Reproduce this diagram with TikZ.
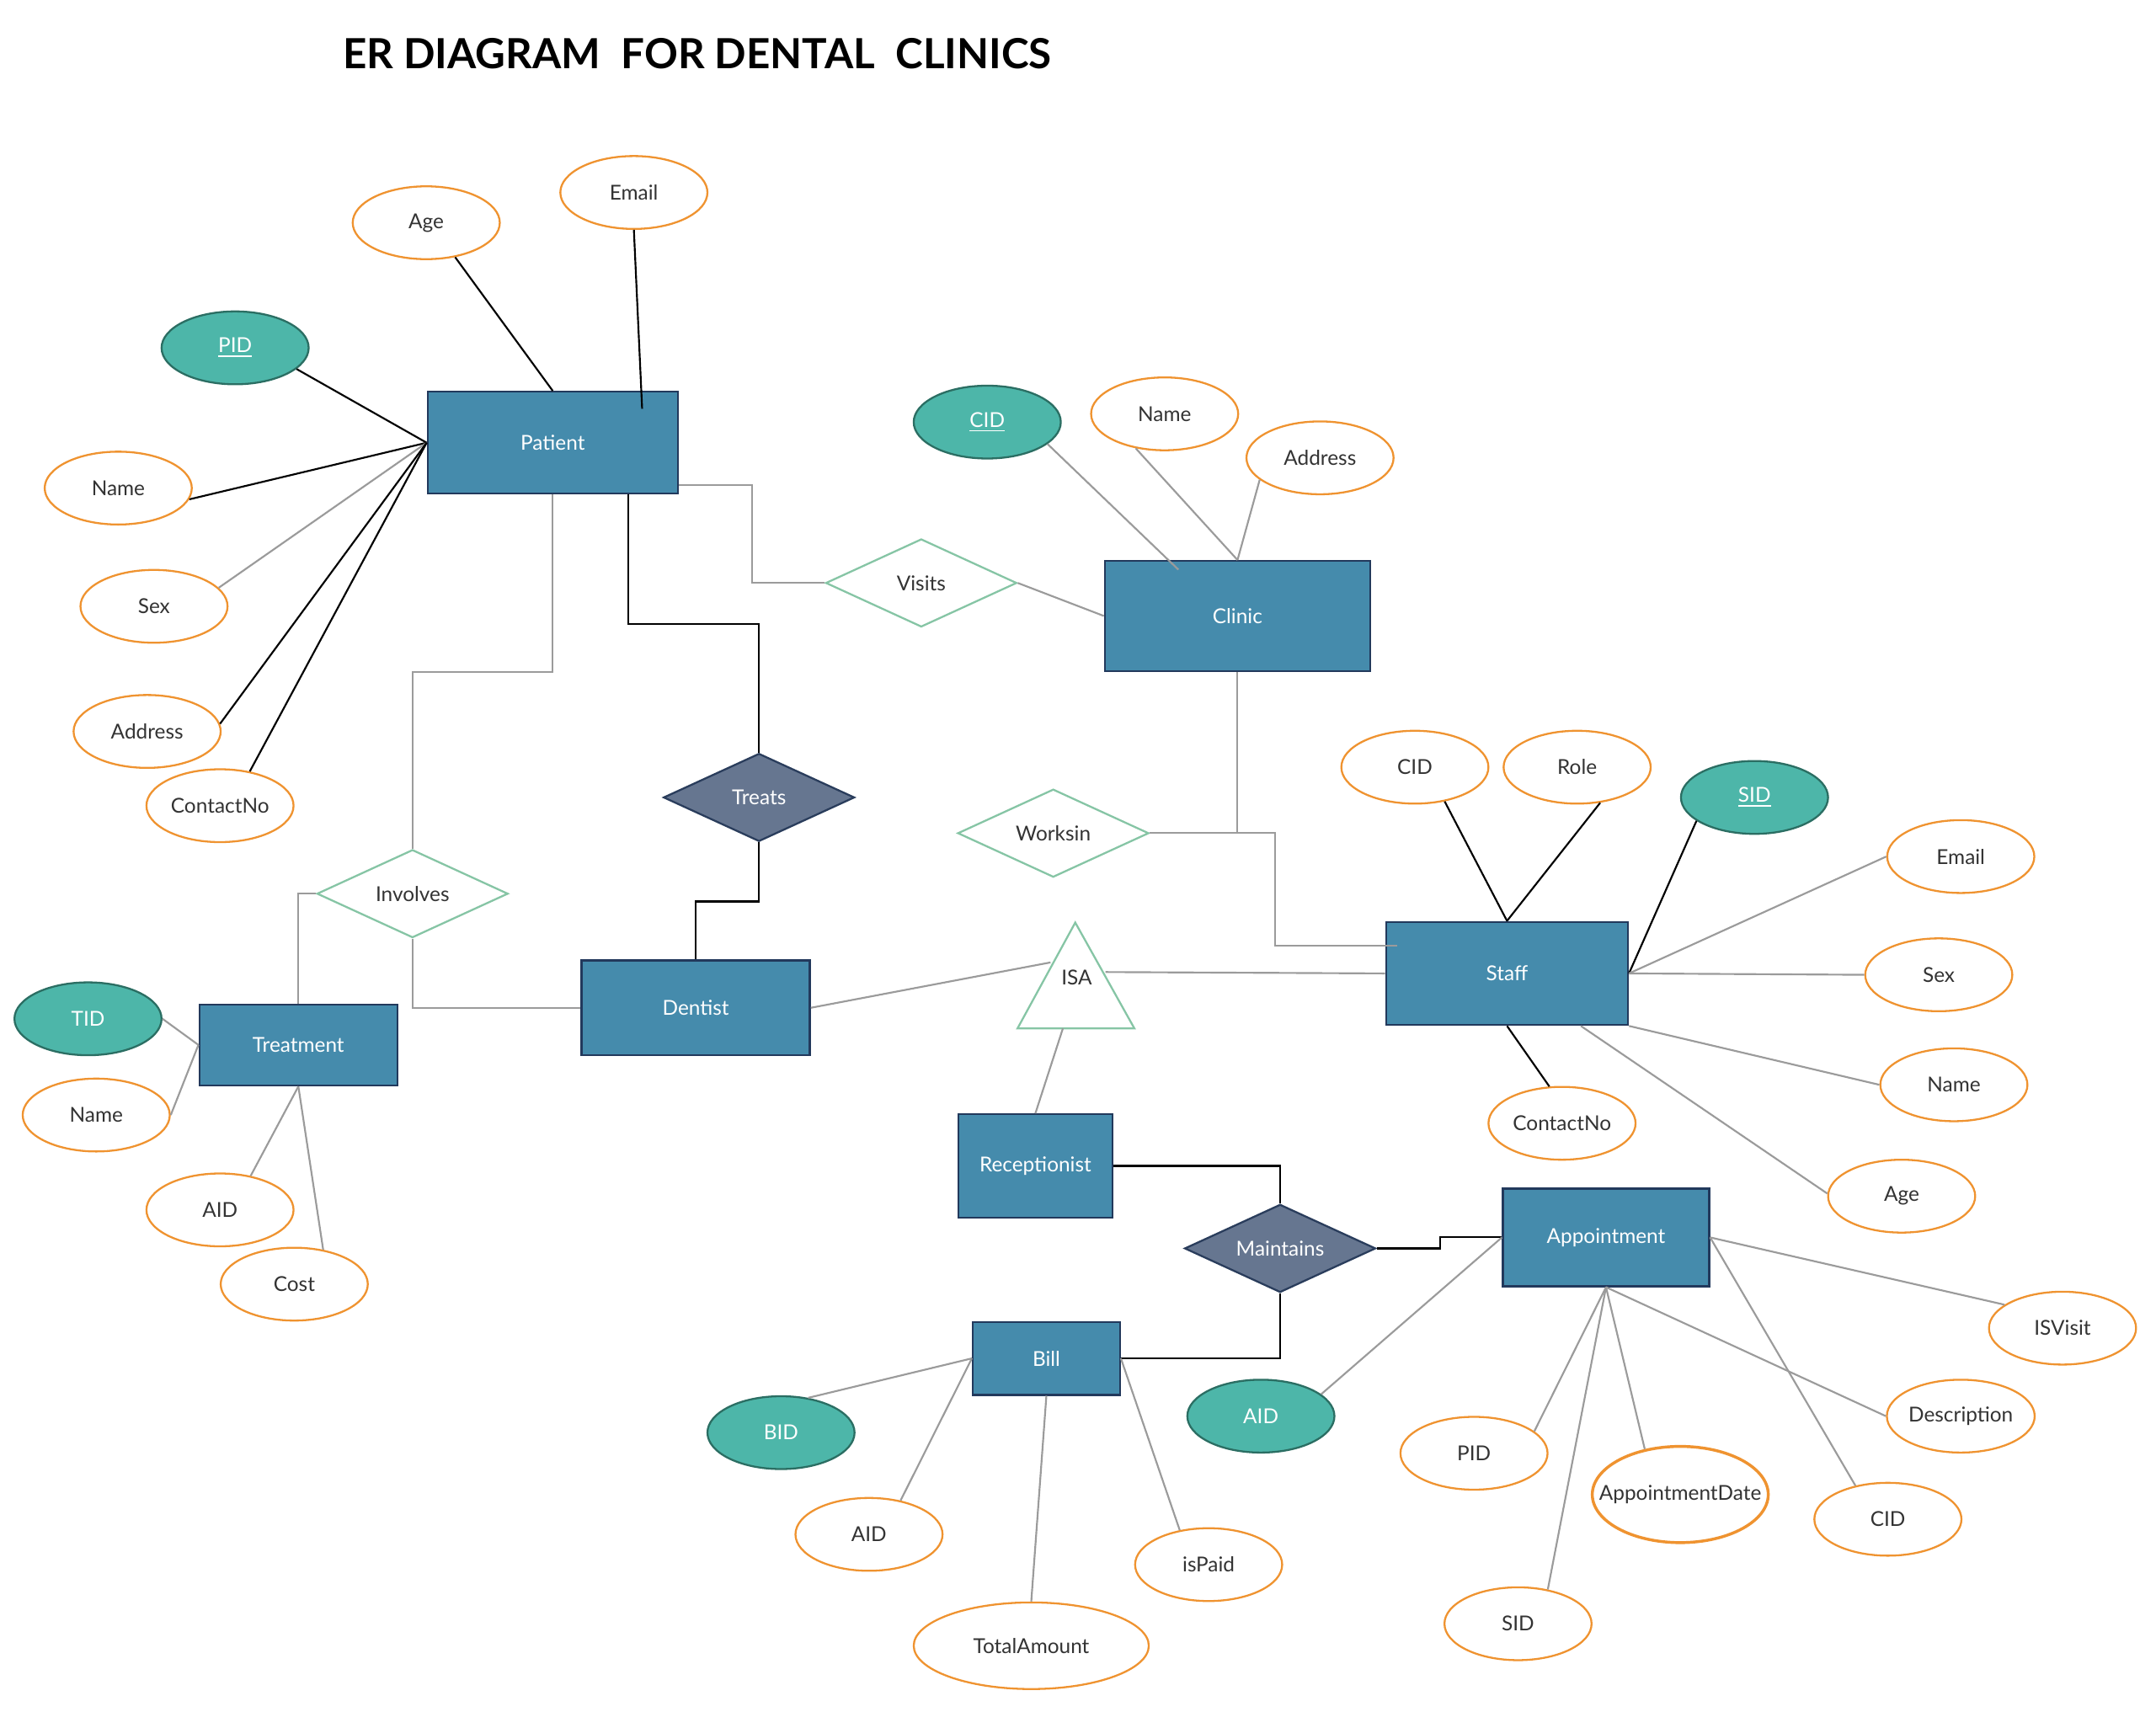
\documentclass[tikz,border=0pt]{standalone}
\usepackage{fontspec}
\setmainfont{Lato}
\usetikzlibrary{shapes.geometric,calc}
\definecolor{entf}{HTML}{458BAC}
\definecolor{entb}{HTML}{22395C}
\definecolor{keyf}{HTML}{4DB6A9}
\definecolor{keyb}{HTML}{2B6E63}
\definecolor{orng}{HTML}{EF9330}
\definecolor{relf}{HTML}{667690}
\definecolor{relb}{HTML}{2A3D5C}
\definecolor{grn}{HTML}{86C5A5}
\definecolor{gline}{HTML}{9B9B9B}
\definecolor{txt}{HTML}{333333}
\begin{document}
\begin{tikzpicture}[x=0.02cm,y=-0.02cm,
  font=\fontsize{8.5}{10}\selectfont,
  ent/.style 2 args={rectangle,draw=entb,fill=entf,text=white,line width=0.8pt,minimum width=#1*0.02cm,minimum height=#2*0.02cm,inner sep=0pt},
  attr/.style={ellipse,draw=orng,fill=white,text=txt,line width=0.8pt,minimum width=2.14cm,minimum height=1.06cm,inner sep=0pt},
  keyattr/.style={attr,draw=keyb,fill=keyf,text=white},
  rel/.style={diamond,aspect=2.2,draw=grn,fill=white,text=txt,line width=0.8pt,minimum width=2.78cm,minimum height=1.28cm,inner sep=0pt},
  drel/.style={rel,draw=relb,fill=relf,text=white},
  bl/.style={draw=black,line width=0.75pt},
  gl/.style={draw=gline,line width=0.75pt}]
\useasboundingbox (0,0) rectangle (1568,1245);

% title
\node[anchor=base west,inner sep=0pt,font=\fontsize{17.2}{20}\selectfont\bfseries] (title) at (249,50) {ER DIAGRAM\hspace{0.5em}FOR DENTAL\hspace{0.5em}CLINICS};

% entities
\node[ent={182}{74}] (patient) at (402,322) {Patient};
\node[ent={193}{80}] (clinic) at (900,448) {Clinic};
\node[ent={176}{75}] (staff) at (1096,708) {Staff};
\node[ent={166}{69}] (dentist) at (506,733) {Dentist};
\node[ent={144}{59}] (treatment) at (217,760) {Treatment};
\node[ent={112}{75}] (receptionist) at (753,848) {Receptionist};
\node[ent={150}{71}] (appointment) at (1168,900) {Appointment};
\node[ent={107}{53}] (bill) at (761,988) {Bill};

% relationships
\node[rel] (visits) at (670,424) {Visits};
\node[drel] (treats) at (552,580) {Treats};
\node[rel] (involves) at (300,650) {Involves};
\node[rel] (worksin) at (766,606) {Worksin};
\node[drel] (maintains) at (931,908) {Maintains};

% ISA triangle
\draw[draw=grn,fill=white,line width=0.8pt] (782,671) -- (825,748) -- (740,748) -- cycle;
\node[inner sep=0pt,minimum width=0.88cm,minimum height=0.4cm,text=txt] (isa) at (783,711) {ISA};
\coordinate (isal) at (764,700);
\coordinate (isar) at (804,707);
\coordinate (isab) at (773,748);

% patient attributes
\node[attr] (page) at (310,162) {Age};
\node[attr] (pemail) at (461,140) {Email};
\node[keyattr] (ppid) at (171,253) {\underline{PID}};
\node[attr] (pname) at (86,355) {Name};
\node[attr] (psex) at (112,441) {Sex};
\node[attr] (paddr) at (107,532) {Address};
\node[attr] (pcontact) at (160,586) {ContactNo};

% clinic attributes
\node[keyattr] (ccid) at (718,307) {\underline{CID}};
\node[attr] (cname) at (847,301) {Name};
\node[attr] (caddr) at (960,333) {Address};

% staff attributes
\node[attr] (scid) at (1029,558) {CID};
\node[attr] (srole) at (1147,558) {Role};
\node[keyattr] (ssid) at (1276,580) {\underline{SID}};
\node[attr] (semail) at (1426,623) {Email};
\node[attr] (ssex) at (1410,709) {Sex};
\node[attr] (sname) at (1421,789) {Name};
\node[attr] (sage) at (1383,870) {Age};
\node[attr] (scontact) at (1136,817) {ContactNo};

% treatment attributes
\node[keyattr] (ttid) at (64,741) {TID};
\node[attr] (tname) at (70,811) {Name};
\node[attr] (taid) at (160,880) {AID};
\node[attr] (tcost) at (214,934) {Cost};

% bill attributes
\node[keyattr] (bbid) at (568,1042) {BID};
\node[attr] (baid) at (632,1116) {AID};
\node[attr,minimum width=3.42cm,minimum height=1.26cm] (btotal) at (750,1197) {TotalAmount};
\node[attr] (bpaid) at (879,1138) {isPaid};

% appointment attributes
\node[keyattr] (aaid) at (917,1030) {AID};
\node[attr] (apid) at (1072,1057) {PID};
\node[attr,line width=1.2pt,minimum width=2.56cm,minimum height=1.4cm] (adate) at (1222,1087) {\makebox[0pt]{AppointmentDate}};
\node[attr] (acid) at (1373,1105) {CID};
\node[attr] (asid) at (1104,1181) {SID};
\node[attr] (adesc) at (1426,1030) {Description};
\node[attr] (avisit) at (1500,966) {ISVisit};

% ---- connectors ----
% patient
\draw[bl] (ppid.341) -- (patient.west);
\draw[bl] (page.310) -- (patient.north);
\draw[bl] (pemail.south) -- ($(patient.north)+(65,13)$);
\draw[bl] (pname.351) -- (patient.west);
\draw[gl] (psex.16) -- (patient.west);
\draw[bl] (paddr.6) -- (patient.west);
\draw[bl] (pcontact.49) -- (patient.west);
\draw[gl] ($(patient.south east)+(0,-7)$) -- ++(53,0) |- (visits.west);
\draw[gl] (visits.east) -- (clinic.west);
\draw[bl] ($(patient.south)+(55,0)$) -- ++(0,94) -| (treats.north);
\draw[bl] (treats.south) -- ++(0,43) -| (dentist.north);
\draw[gl] (patient.south) -- ++(0,129) -| (involves.north);
\draw[gl] (involves.west) -| (treatment.north);
\draw[gl] (involves.south) |- (dentist.west);
\draw[gl] (dentist.east) -- (isal);
\draw[gl] (isar) -- (staff.west);
\draw[gl] (isab) -- (receptionist.north);

% clinic
\draw[gl] (ccid.340) -- ($(clinic.north)+(-43,7)$);
\draw[gl] (cname.230) -- (clinic.north);
\draw[gl] (caddr.200) -- (clinic.north);
\draw[gl] (clinic.south) -- (clinic.south |- worksin.east);
\draw[gl] (worksin.east) -- ++(91,0) |- ($(staff.west)+(9,-20)$);

% staff
\draw[bl] (scid.311) -- (staff.north);
\draw[bl] (srole.303) -- (staff.north);
\draw[bl] (ssid.202) -- (staff.east);
\draw[gl] (semail.180) -- (staff.east);
\draw[gl] (ssex.180) -- (staff.east);
\draw[gl] (sname.180) -- (staff.south east);
\draw[gl] (sage.178) -- ($(staff.south east)+(-35,0)$);
\draw[bl] (scontact.109) -- (staff.south);

% maintains
\draw[bl] (receptionist.east) -| (maintains.north);
\draw[bl] (maintains.east) -- ++(46,0) |- (appointment.west);
\draw[bl] (maintains.south) |- (bill.east);

% appointment
\draw[gl] (aaid.20) -- (appointment.west);
\draw[gl] (apid.20) -- (appointment.south);
\draw[gl] (asid.49) -- (appointment.south);
\draw[gl] (adate.128) -- (appointment.south);
\draw[gl] (adesc.180) -- (appointment.south);
\draw[gl] (acid.134) -- (appointment.east);
\draw[gl] (avisit.158) -- (appointment.east);

% bill
\draw[gl] (bbid.52) -- (bill.west);
\draw[gl] (baid.47) -- (bill.west);
\draw[gl] (btotal.north) -- (bill.south);
\draw[gl] (bpaid.130) -- (bill.east);

% treatment
\draw[gl] (ttid.0) -- (treatment.west);
\draw[gl] (tname.0) -- (treatment.west);
\draw[gl] (taid.48) -- (treatment.south);
\draw[gl] (tcost.50) -- (treatment.south);
\end{tikzpicture}
\end{document}
